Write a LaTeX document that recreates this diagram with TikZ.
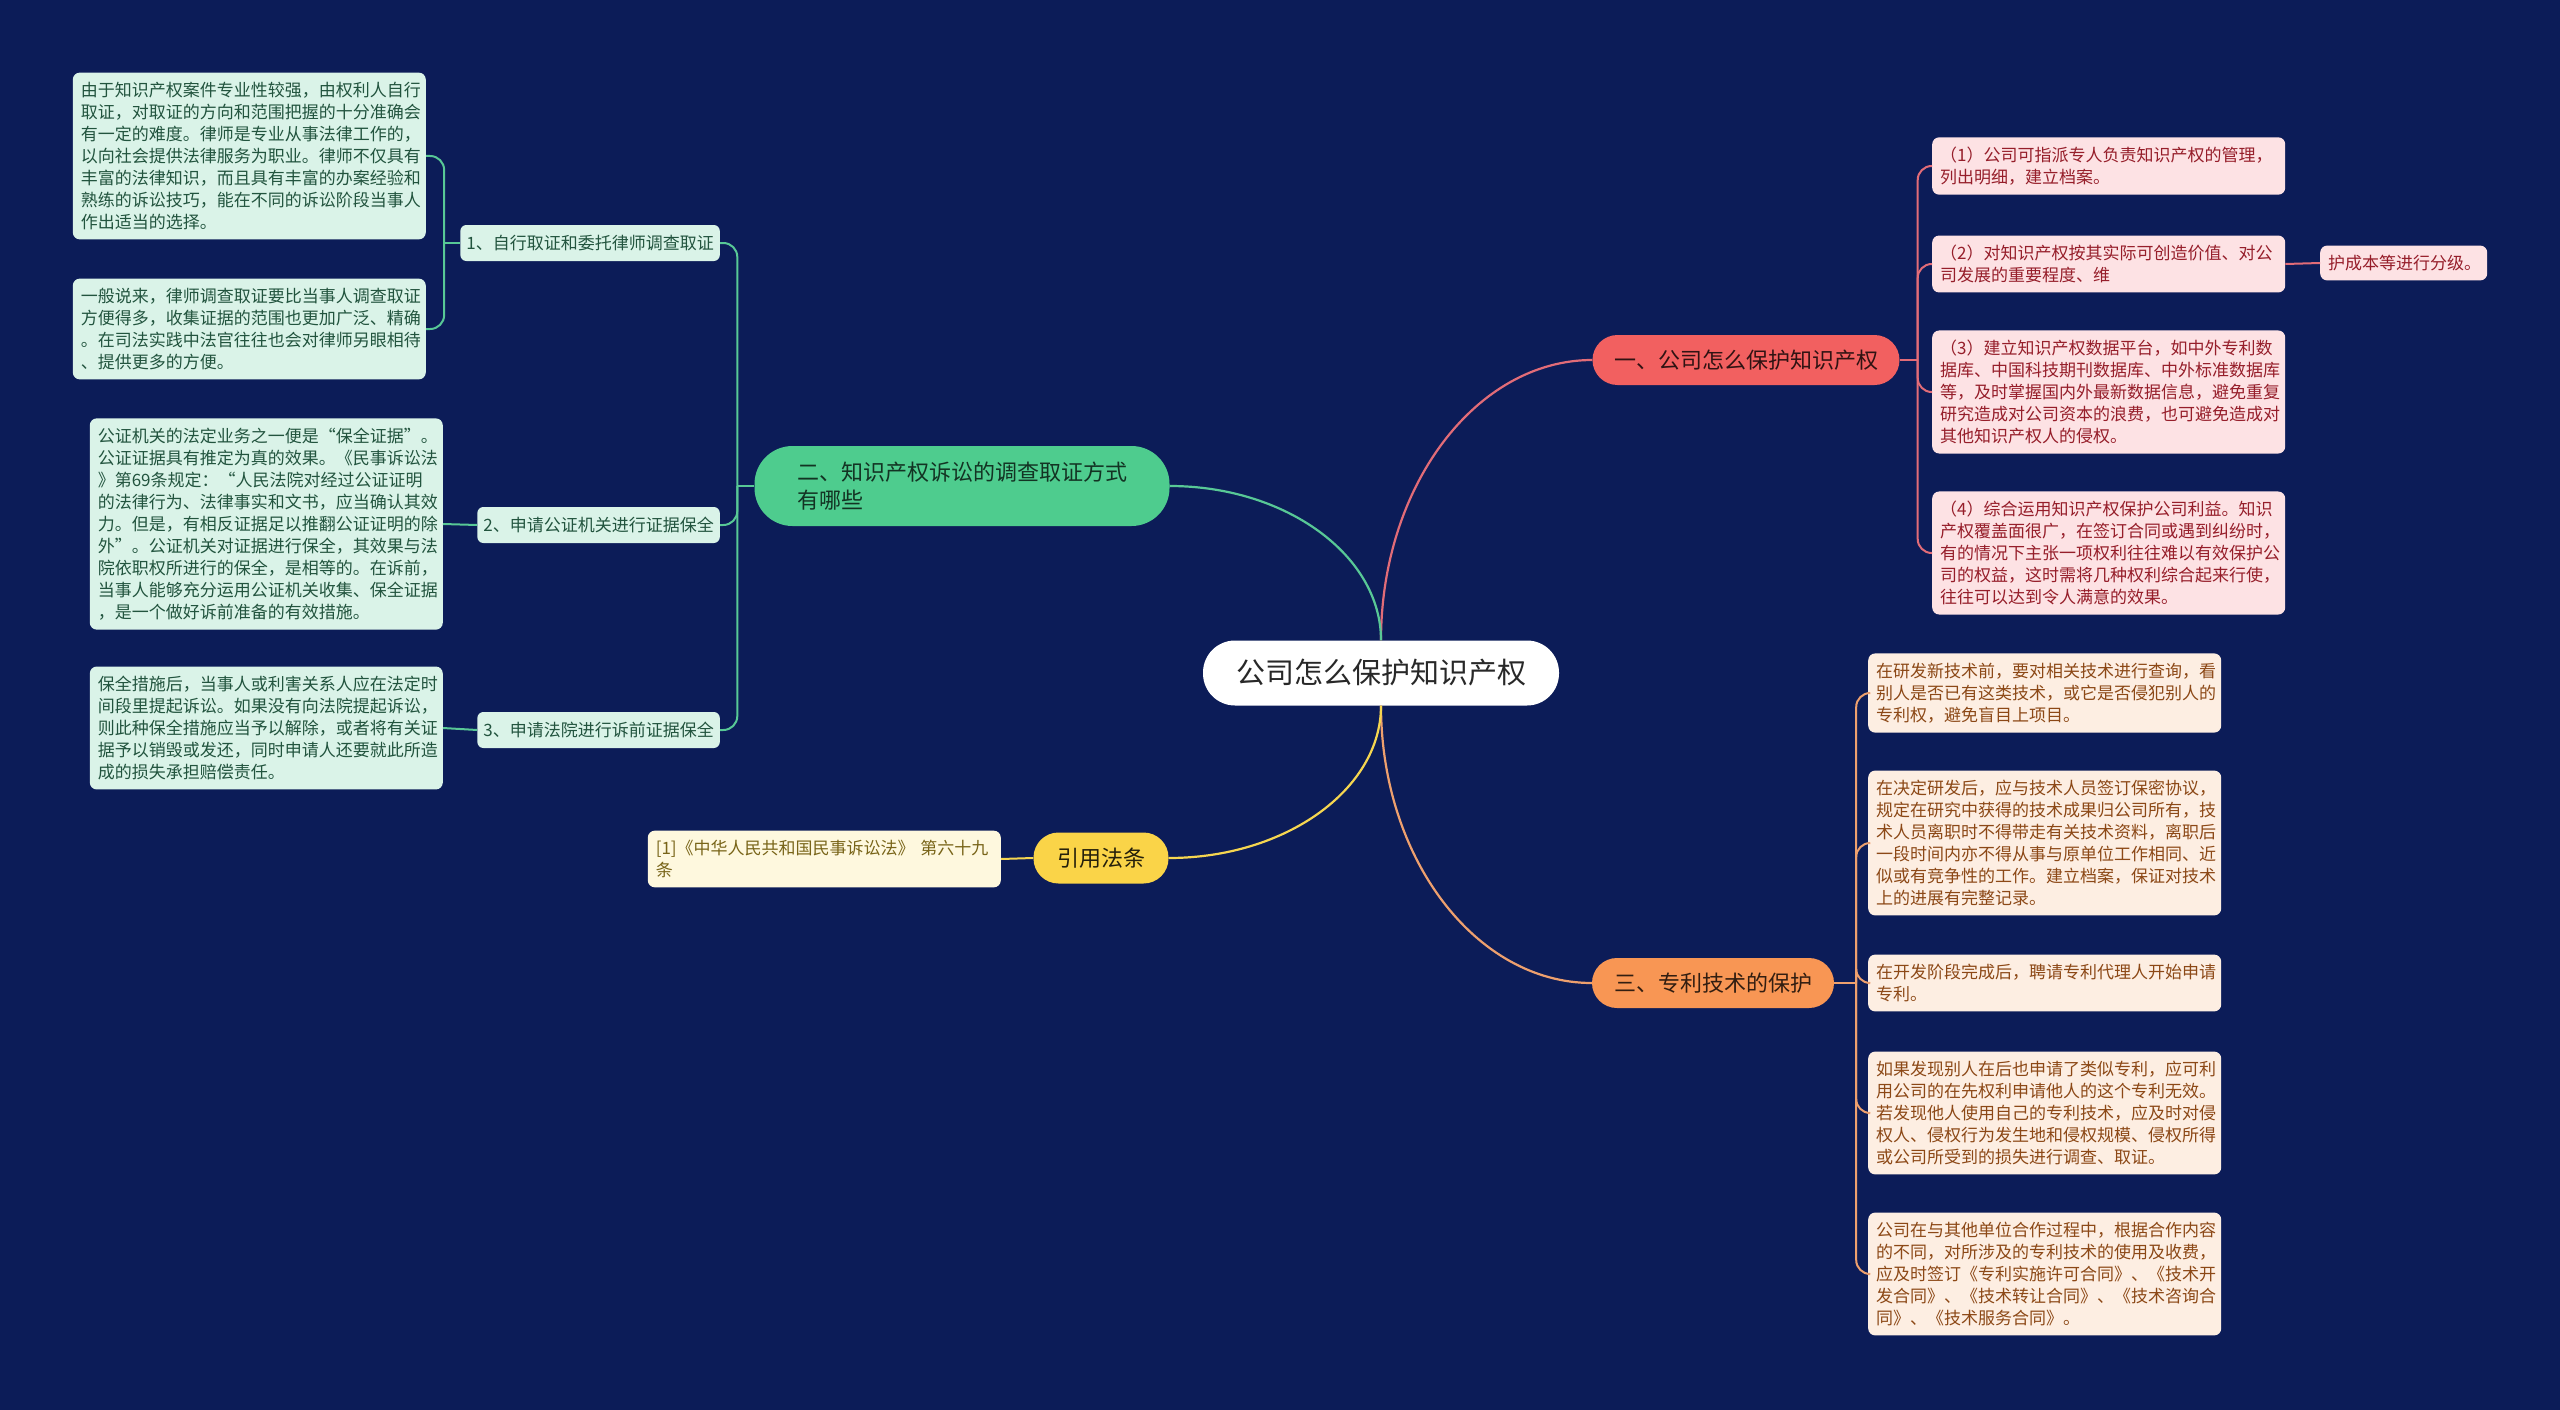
\documentclass[tikz,border=0pt]{standalone}
\usepackage{fontspec}
\setmainfont{Noto Sans CJK SC}
\usepackage{tikz}
\usetikzlibrary{positioning, calc}
\definecolor{bgnavy}{RGB}{12,28,88}
\definecolor{rootfg}{RGB}{40,40,40}
\definecolor{mygreen}{RGB}{78,204,142}
\definecolor{mygreenln}{RGB}{88,200,150}
\definecolor{myred}{RGB}{242,96,96}
\definecolor{myredln}{RGB}{226,108,120}
\definecolor{myorange}{RGB}{248,150,84}
\definecolor{myorangeln}{RGB}{238,160,110}
\definecolor{myyellow}{RGB}{250,212,72}
\definecolor{myyellowln}{RGB}{246,214,80}
\definecolor{leafgreen}{RGB}{218,243,232}
\definecolor{leafred}{RGB}{253,226,228}
\definecolor{leaforange}{RGB}{253,238,226}
\definecolor{leafyellow}{RGB}{254,248,222}
\definecolor{txtgreen}{RGB}{34,84,62}
\definecolor{txtred}{RGB}{150,30,42}
\definecolor{txtorange}{RGB}{140,72,22}
\definecolor{txtyellow}{RGB}{120,100,24}
\tikzset{
  rootnode/.style={rectangle, fill=white, text=rootfg, rounded corners=32pt,
    minimum width=356pt, minimum height=65pt, font=\fontsize{29}{34}\selectfont},
  branch/.style={rectangle, rounded corners=25pt, minimum height=50pt,
    inner xsep=14pt, font=\fontsize{22}{28}\selectfont},
  leaf/.style={rectangle, rounded corners=7pt, text width=337pt, align=left,
    inner xsep=8pt, inner ysep=9.5pt, font=\fontsize{17}{22}\selectfont},
  subnode/.style={rectangle, rounded corners=6pt, fill=leafgreen, text=txtgreen,
    inner xsep=6pt, minimum height=36pt, font=\fontsize{17}{22}\selectfont},
  greenleaf/.style={leaf, fill=leafgreen, text=txtgreen},
  redleaf/.style={leaf, fill=leafred, text=txtred},
  orangeleaf/.style={leaf, fill=leaforange, text=txtorange},
  yellowleaf/.style={leaf, fill=leafyellow, text=txtyellow},
  link/.style={line width=2.2pt},
  bracket/.style={line width=2pt, rounded corners=14pt}
}

\begin{document}
\begin{tikzpicture}[x=1pt, y=-1pt]
  % Background
  \fill[bgnavy] (0,0) rectangle (2560,1410);
  \useasboundingbox (0,0) rectangle (2560,1410);

  % Root and main branches
  \node[rootnode] (root) at (1381,673) {公司怎么保护知识产权};
  \node[branch, fill=myred, text=black!80!myred, minimum width=307pt] (protect) at (1746,360) {一、公司怎么保护知识产权};
  \node[branch, fill=myorange, text=black!80!myorange, minimum width=242pt] (patent) at (1713,983) {三、专利技术的保护};
  \node[branch, fill=mygreen, text=black!75!mygreen, minimum width=415pt, minimum height=80pt,
    align=left, inner xsep=40pt, rounded corners=38pt] (evidence) at (962,486) {二、知识产权诉讼的调查取证方式\\有哪些};
  \node[branch, fill=myyellow, text=black!85!myyellow, minimum width=135pt, minimum height=51pt] (law) at (1101,858) {引用法条};

  % Red leaves
  \node[redleaf, anchor=west] (prot1) at (1932,166) {（1）公司可指派专人负责知识产权的管理，\\列出明细，建立档案。};
  \node[redleaf, anchor=west] (prot2) at (1932,264) {（2）对知识产权按其实际可创造价值、对公\\司发展的重要程度、维};
  \node[redleaf, anchor=west, text width=151pt] (prot2b) at (2320,263) {护成本等进行分级。};
  \node[redleaf, anchor=west] (prot3) at (1932,392) {（3）建立知识产权数据平台，如中外专利数\\据库、中国科技期刊数据库、中外标准数据库\\等，及时掌握国内外最新数据信息，避免重复\\研究造成对公司资本的浪费，也可避免造成对\\其他知识产权人的侵权。};
  \node[redleaf, anchor=west] (prot4) at (1932,553) {（4）综合运用知识产权保护公司利益。知识\\产权覆盖面很广，在签订合同或遇到纠纷时，\\有的情况下主张一项权利往往难以有效保护公\\司的权益，这时需将几种权利综合起来行使，\\往往可以达到令人满意的效果。};

  % Orange leaves
  \node[orangeleaf, anchor=west] (pat1) at (1868,693) {在研发新技术前，要对相关技术进行查询，看\\别人是否已有这类技术，或它是否侵犯别人的\\专利权，避免盲目上项目。};
  \node[orangeleaf, anchor=west] (pat2) at (1868,843) {在决定研发后，应与技术人员签订保密协议，\\规定在研究中获得的技术成果归公司所有，技\\术人员离职时不得带走有关技术资料，离职后\\一段时间内亦不得从事与原单位工作相同、近\\似或有竞争性的工作。建立档案，保证对技术\\上的进展有完整记录。};
  \node[orangeleaf, anchor=west] (pat3) at (1868,983) {在开发阶段完成后，聘请专利代理人开始申请\\专利。};
  \node[orangeleaf, anchor=west] (pat4) at (1868,1113) {如果发现别人在后也申请了类似专利，应可利\\用公司的在先权利申请他人的这个专利无效。\\若发现他人使用自己的专利技术，应及时对侵\\权人、侵权行为发生地和侵权规模、侵权所得\\或公司所受到的损失进行调查、取证。};
  \node[orangeleaf, anchor=west] (pat5) at (1868,1274) {公司在与其他单位合作过程中，根据合作内容\\的不同，对所涉及的专利技术的使用及收费，\\应及时签订《专利实施许可合同》、《技术开\\发合同》、《技术转让合同》、《技术咨询合\\同》、《技术服务合同》。};

  % Green sub nodes and leaves
  \node[subnode, anchor=east] (ev1) at (720,243) {1、自行取证和委托律师调查取证};
  \node[subnode, anchor=east] (ev2) at (720,525) {2、申请公证机关进行证据保全};
  \node[subnode, anchor=east] (ev3) at (720,730) {3、申请法院进行诉前证据保全};
  \node[greenleaf, anchor=east] (ev1a) at (426,156) {由于知识产权案件专业性较强，由权利人自行\\取证，对取证的方向和范围把握的十分准确会\\有一定的难度。律师是专业从事法律工作的，\\以向社会提供法律服务为职业。律师不仅具有\\丰富的法律知识，而且具有丰富的办案经验和\\熟练的诉讼技巧，能在不同的诉讼阶段当事人\\作出适当的选择。};
  \node[greenleaf, anchor=east] (ev1b) at (426,329) {一般说来，律师调查取证要比当事人调查取证\\方便得多，收集证据的范围也更加广泛、精确\\。在司法实践中法官往往也会对律师另眼相待\\、提供更多的方便。};
  \node[greenleaf, anchor=east] (ev2a) at (443,524) {公证机关的法定业务之一便是“保全证据”。\\公证证据具有推定为真的效果。《民事诉讼法\\》第69条规定：“人民法院对经过公证证明\\的法律行为、法律事实和文书，应当确认其效\\力。但是，有相反证据足以推翻公证证明的除\\外”。公证机关对证据进行保全，其效果与法\\院依职权所进行的保全，是相等的。在诉前，\\当事人能够充分运用公证机关收集、保全证据\\，是一个做好诉前准备的有效措施。};
  \node[greenleaf, anchor=east] (ev3a) at (443,728) {保全措施后，当事人或利害关系人应在法定时\\间段里提起诉讼。如果没有向法院提起诉讼，\\则此种保全措施应当予以解除，或者将有关证\\据予以销毁或发还，同时申请人还要就此所造\\成的损失承担赔偿责任。};

  % Yellow leaf
  \node[yellowleaf, anchor=east] (law1) at (1001,859) {[1]《中华人民共和国民事诉讼法》 第六十九\\条};

  % Root to branches
  \draw[link, myredln] (root.north) .. controls ($(root.north)!0.55!(root.north |- protect.west)$) and ($(protect.west)!0.55!(root.north |- protect.west)$) .. (protect.west);
  \draw[link, mygreenln] (root.north) .. controls ($(root.north)!0.55!(root.north |- evidence.east)$) and ($(evidence.east)!0.55!(root.north |- evidence.east)$) .. (evidence.east);
  \draw[link, myorangeln] (root.south) .. controls ($(root.south)!0.55!(root.south |- patent.west)$) and ($(patent.west)!0.55!(root.south |- patent.west)$) .. (patent.west);
  \draw[link, myyellowln] (root.south) .. controls ($(root.south)!0.55!(root.south |- law.east)$) and ($(law.east)!0.55!(root.south |- law.east)$) .. (law.east);

  % Brackets
  \coordinate (protj) at ($(protect.east)+(18,0)$);
  \draw[bracket, myredln] (protect.east) -- (protj);
  \foreach \n in {prot1, prot2, prot3, prot4}
    \draw[bracket, myredln] (protj) |- (\n.west);
  \draw[bracket, myredln] (prot2.east) -- (prot2b.west);

  \coordinate (patj) at ($(patent.east)+(22,0)$);
  \draw[bracket, myorangeln] (patent.east) -- (patj);
  \foreach \n in {pat1, pat2, pat3, pat4, pat5}
    \draw[bracket, myorangeln] (patj) |- (\n.west);

  \coordinate (evj) at ($(evidence.west)+(-17,0)$);
  \draw[bracket, mygreenln] (evidence.west) -- (evj);
  \foreach \n in {ev1, ev2, ev3}
    \draw[bracket, mygreenln] (evj) |- (\n.east);

  \coordinate (ev1j) at ($(ev1.west)+(-16,0)$);
  \draw[bracket, mygreenln] (ev1.west) -- (ev1j);
  \foreach \n in {ev1a, ev1b}
    \draw[bracket, mygreenln] (ev1j) |- (\n.east);
  \draw[bracket, mygreenln] (ev2.west) -- (ev2a.east);
  \draw[bracket, mygreenln] (ev3.west) -- (ev3a.east);

  \draw[bracket, myyellowln] (law.west) -- (law1.east);
\end{tikzpicture}
\end{document}
